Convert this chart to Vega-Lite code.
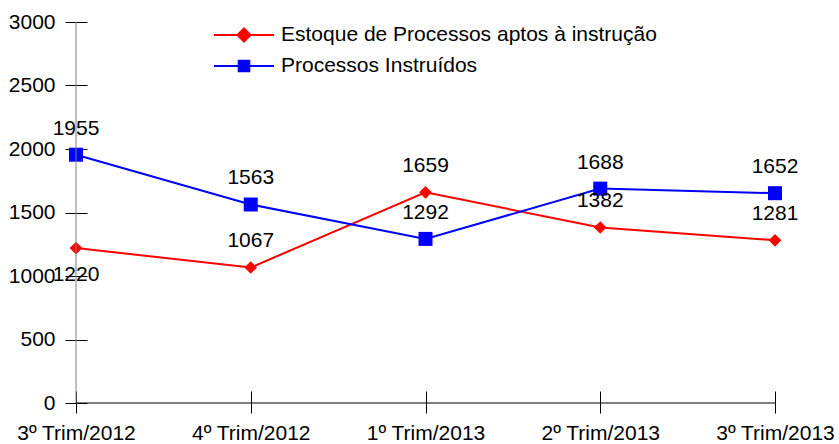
{
  "$schema": "https://vega.github.io/schema/vega-lite/v6.json",
  "width": 699,
  "height": 381,
  "autosize": {"type": "none"},
  "padding": {"left": 76, "top": 22, "right": 63, "bottom": 41},
  "config": {
    "view": {"stroke": null},
    "font": "Liberation Sans",
    "axis": {"labelFont": "Liberation Sans", "labelFontSize": 21, "labelColor": "#000000", "grid": false, "title": null, "tickColor": "#000000", "tickWidth": 1, "domain": false},
    "legend": {"labelFont": "Liberation Sans", "labelFontSize": 21, "labelColor": "#000000", "labelLimit": 0}
  },
  "data": {
    "values": [
      {"trim": "3º Trim/2012", "serie": "Estoque de Processos aptos à instrução", "valor": 1220},
      {"trim": "4º Trim/2012", "serie": "Estoque de Processos aptos à instrução", "valor": 1067},
      {"trim": "1º Trim/2013", "serie": "Estoque de Processos aptos à instrução", "valor": 1659},
      {"trim": "2º Trim/2013", "serie": "Estoque de Processos aptos à instrução", "valor": 1382},
      {"trim": "3º Trim/2013", "serie": "Estoque de Processos aptos à instrução", "valor": 1281},
      {"trim": "3º Trim/2012", "serie": "Processos Instruídos", "valor": 1955},
      {"trim": "4º Trim/2012", "serie": "Processos Instruídos", "valor": 1563},
      {"trim": "1º Trim/2013", "serie": "Processos Instruídos", "valor": 1292},
      {"trim": "2º Trim/2013", "serie": "Processos Instruídos", "valor": 1688},
      {"trim": "3º Trim/2013", "serie": "Processos Instruídos", "valor": 1652}
    ]
  },
  "encoding": {
    "x": {
      "field": "trim", "type": "ordinal",
      "scale": {"type": "point", "padding": 0, "domain": ["3º Trim/2012", "4º Trim/2012", "1º Trim/2013", "2º Trim/2013", "3º Trim/2013"]},
      "axis": {"labelAngle": 0, "labelAlign": "center", "tickSize": 22, "offset": -12, "labelPadding": 9}
    },
    "y": {
      "field": "valor", "type": "quantitative",
      "scale": {"domain": [0, 3000], "nice": false},
      "axis": {"values": [0, 500, 1000, 1500, 2000, 2500, 3000], "format": "d", "tickSize": 22, "offset": -11, "labelPadding": 10}
    }
  },
  "layer": [
    {
      "mark": {"type": "line", "strokeWidth": 2},
      "encoding": {
        "color": {"field": "serie", "type": "nominal",
          "scale": {"domain": ["Estoque de Processos aptos à instrução", "Processos Instruídos"], "range": ["#ff0000", "#0000ff"]},
          "legend": {
            "title": null, "orient": "none", "legendX": 157, "legendY": 2, "padding": 0,
            "symbolSize": 400, "labelOffset": 26, "rowPadding": 9, "symbolStrokeWidth": 2,
            "encode": {
              "symbols": {"update": {
                "shape": {"signal": "datum.value == 'Processos Instruídos' ? 'M-3,0L3,0M-0.53,-0.53L0.53,-0.53L0.53,0.53L-0.53,0.53Z' : 'M-3,0L3,0M0,-0.65L0.65,0L0,0.65L-0.65,0Z'"},
                "fill": {"signal": "datum.value == 'Processos Instruídos' ? '#0000ff' : '#ff0000'"},
                "stroke": {"signal": "datum.value == 'Processos Instruídos' ? '#0000ff' : '#ff0000'"},
                "strokeWidth": {"value": 2},
                "size": {"value": 400},
                "opacity": {"value": 1}
              }}
            }
          }
        }
      }
    },
    {
      "transform": [{"filter": "datum.serie == 'Estoque de Processos aptos à instrução'"}],
      "mark": {"type": "point", "filled": true, "opacity": 1, "size": 160, "shape": "diamond"},
      "encoding": {"color": {"field": "serie", "type": "nominal"}}
    },
    {
      "transform": [{"filter": "datum.serie == 'Processos Instruídos'"}],
      "mark": {"type": "point", "filled": true, "opacity": 1, "size": 196, "shape": "square"},
      "encoding": {"color": {"field": "serie", "type": "nominal"}}
    },
    {
      "transform": [{"filter": "datum.valor != 1220"}],
      "mark": {"type": "text", "dy": -26, "fontSize": 21, "font": "Liberation Sans", "color": "#000000", "baseline": "middle", "align": "center"},
      "encoding": {"text": {"field": "valor", "type": "quantitative", "format": "d"}}
    },
    {
      "transform": [{"filter": "datum.valor == 1220"}],
      "mark": {"type": "text", "dy": 27, "fontSize": 21, "font": "Liberation Sans", "color": "#000000", "baseline": "middle", "align": "center"},
      "encoding": {"text": {"field": "valor", "type": "quantitative", "format": "d"}}
    },
    {
      "data": {"values": [{"trim": "3º Trim/2012", "lo": 0, "hi": 3000}]},
      "mark": {"type": "rule", "color": "#808080", "strokeWidth": 1},
      "encoding": {
        "x": {"field": "trim", "type": "ordinal"},
        "y": {"field": "lo", "type": "quantitative"},
        "y2": {"field": "hi"}
      }
    },
    {
      "data": {"values": [{"a": "3º Trim/2012", "b": "3º Trim/2013", "v": 0}]},
      "mark": {"type": "rule", "color": "#000000", "strokeWidth": 1},
      "encoding": {
        "x": {"field": "a", "type": "ordinal"},
        "x2": {"field": "b"},
        "y": {"field": "v", "type": "quantitative"}
      }
    }
  ]
}
